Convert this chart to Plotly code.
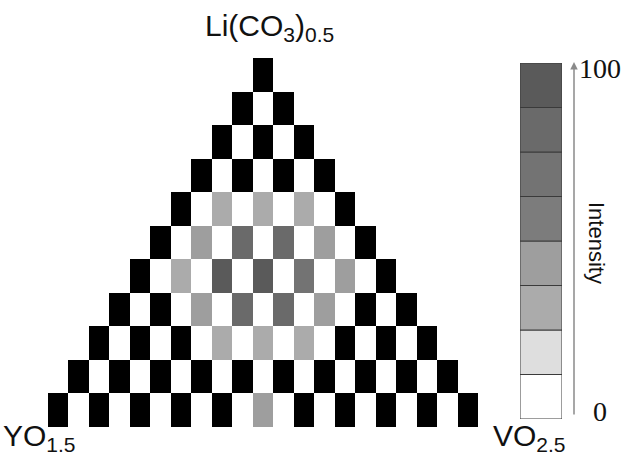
import plotly.graph_objects as go

# Ternary composition grid, 10 % steps: row 0 is pure Li(CO3)0.5, the bottom row runs
# from YO1.5 (left) to VO2.5 (right). None = composition with no measured intensity (black).
intensity_rows = [
    [None],
    [None, None],
    [None, None, None],
    [None, None, None, None],
    [None, 35, 33, 35, None],
    [None, 40, 80, 76, 40, None],
    [None, 36, 92, 95, 72, 38, None],
    [None, None, 38, 85, 78, 40, None, None],
    [None, None, None, 32, 35, 33, None, None, None],
    [None, None, None, None, None, None, None, None, None, None],
    [None, None, None, None, None, 38, None, None, None, None, None],
]

# Intensity scale: eight equal bins from 0 to 100
level_edges = [0, 12.5, 25, 37.5, 50, 62.5, 75, 87.5, 100]
level_colors = ["#ffffff", "#dedede", "#ababab", "#9e9e9e",
                "#7c7c7c", "#737373", "#6a6a6a", "#5a5a5a"]
scale_labels = ["0", "100"]
corner_labels = ["Li(CO<sub>3</sub>)<sub>0.5</sub>", "YO<sub>1.5</sub>", "VO<sub>2.5</sub>"]

W, H = 627, 468
n_rows = len(intensity_rows)
n_cols = 2 * n_rows - 1

# Staggered layout: cell j of row i sits in half-column (n_rows-1-i) + 2j
z_val = [[None] * n_cols for _ in range(n_rows)]
z_blank = [[None] * n_cols for _ in range(n_rows)]
for i, row in enumerate(intensity_rows):
    for j, v in enumerate(row):
        c = (n_rows - 1 - i) + 2 * j
        if v is None:
            z_blank[i][c] = 1
        else:
            z_val[i][c] = v

colorscale = []
for k, col in enumerate(level_colors):
    colorscale.append([level_edges[k] / 100, col])
    colorscale.append([level_edges[k + 1] / 100, col])

fig = go.Figure()
fig.add_trace(go.Heatmap(
    z=z_blank, x=list(range(n_cols)), y=list(range(n_rows)),
    colorscale=[[0, "#000000"], [1, "#000000"]], showscale=False,
    hoverinfo="skip", xgap=0, ygap=0,
))
fig.add_trace(go.Heatmap(
    z=z_val, x=list(range(n_cols)), y=list(range(n_rows)),
    colorscale=colorscale, zmin=0, zmax=100, showscale=False, xgap=0, ygap=0,
))

# Intensity key drawn as a stack of boxes, one per bin
for k, col in enumerate(level_colors):
    fig.add_trace(go.Bar(
        x=[0], y=[level_edges[k + 1] - level_edges[k]], base=[level_edges[k]],
        marker=dict(color=col, line=dict(color="#3a3a3a", width=1)),
        width=1, xaxis="x2", yaxis="y2", showlegend=False, hoverinfo="skip",
    ))

def px_x(p):
    return p / W

def px_y(p):
    return (H - p) / H

hidden = dict(showgrid=False, zeroline=False, showticklabels=False, ticks="", showline=False)
fig.update_layout(
    width=W, height=H, margin=dict(l=0, r=0, t=0, b=0),
    paper_bgcolor="white", plot_bgcolor="rgba(0,0,0,0)",
    font=dict(family="Liberation Sans, Arial, sans-serif", color="#111"),
    xaxis=dict(domain=[px_x(48), px_x(478)], range=[-0.5, n_cols - 0.5], **hidden),
    yaxis=dict(domain=[px_y(427), px_y(58)], range=[n_rows - 0.5, -0.5], **hidden),
    xaxis2=dict(domain=[px_x(520), px_x(562)], range=[-0.5, 0.5], anchor="y2", **hidden),
    yaxis2=dict(domain=[px_y(419), px_y(63)], range=[0, 100], anchor="x2", **hidden),
    barmode="overlay",
    showlegend=False,
)

ann = []
# Corner labels
ann.append(dict(text=corner_labels[0], x=px_x(203), y=px_y(48), xanchor="left", yanchor="bottom",
                font=dict(size=30)))
ann.append(dict(text=corner_labels[1], x=px_x(1), y=px_y(458), xanchor="left", yanchor="bottom",
                font=dict(size=30)))
ann.append(dict(text=corner_labels[2], x=px_x(491), y=px_y(458), xanchor="left", yanchor="bottom",
                font=dict(size=30)))
# Scale labels and arrow
ann.append(dict(text=scale_labels[1], x=px_x(577), y=px_y(68), xanchor="left", yanchor="middle",
                font=dict(size=28, family="Liberation Serif, Times New Roman, serif")))
ann.append(dict(text=scale_labels[0], x=px_x(600), y=px_y(411), xanchor="center", yanchor="middle",
                font=dict(size=28, family="Liberation Serif, Times New Roman, serif")))
ann.append(dict(text="Intensity", x=px_x(596), y=px_y(243), xanchor="center", yanchor="middle",
                textangle=90, font=dict(size=22)))
ann.append(dict(text="", x=px_x(574), y=px_y(62), ax=0, ay=354, showarrow=True,
                arrowhead=2, arrowsize=1, arrowwidth=1.5, arrowcolor="#8a8a8a"))
for a in ann:
    a.setdefault("xref", "paper")
    a.setdefault("yref", "paper")
    a.setdefault("showarrow", False)
fig.update_layout(annotations=ann)

fig.write_html("out.html")
